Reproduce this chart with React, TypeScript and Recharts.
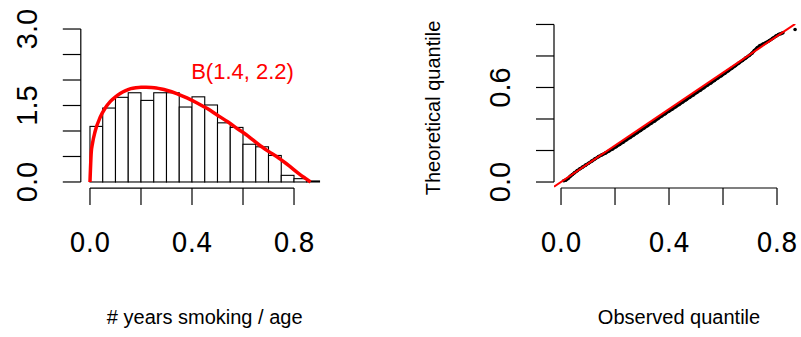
import { ComposedChart, Bar, Line, Scatter, XAxis, YAxis, ReferenceLine } from "recharts"

// histogram of # years smoking / age (density scale, bin width 0.05)
const binMids = [0.025, 0.075, 0.125, 0.175, 0.225, 0.275, 0.325, 0.375, 0.425, 0.475, 0.525, 0.575, 0.625, 0.675, 0.725, 0.775, 0.825, 0.875]
const binDensity = [1.09, 1.45, 1.66, 1.75, 1.6, 1.75, 1.75, 1.47, 1.67, 1.51, 1.16, 1.07, 0.74, 0.69, 0.52, 0.13, 0.065, 0.02]
const binWidth = 0.05

// fitted B(1.4, 2.2) density
const curveX = [0, 0.005, 0.01, 0.02, 0.04, 0.06, 0.08, 0.1, 0.12, 0.14, 0.16, 0.18, 0.2, 0.22, 0.24, 0.26, 0.28, 0.3, 0.34, 0.38, 0.42, 0.46, 0.5, 0.54, 0.58, 0.62, 0.66, 0.7, 0.74, 0.78, 0.82, 0.845, 0.865]
const curveY = [0, 0.58, 0.76, 0.99, 1.27, 1.45, 1.58, 1.67, 1.74, 1.79, 1.83, 1.85, 1.86, 1.86, 1.855, 1.845, 1.825, 1.8, 1.735, 1.65, 1.55, 1.44, 1.31, 1.18, 1.04, 0.9, 0.74, 0.6, 0.47, 0.32, 0.16, 0.07, 0]

const histXTicks = [0, 0.2, 0.4, 0.6, 0.8]
const histXLabels = ["0.0", "", "0.4", "", "0.8"]
const histYTicks = [0, 0.5, 1, 1.5, 2, 2.5, 3]
const histYLabels = ["0.0", "", "", "1.5", "", "", "3.0"]

// QQ plot: observed vs theoretical quantiles
const observedQ = [0.01, 0.018, 0.026, 0.034, 0.042, 0.05, 0.06, 0.07, 0.08, 0.091, 0.102, 0.114, 0.126, 0.139, 0.152, 0.165, 0.178, 0.191, 0.204, 0.217, 0.23, 0.243, 0.256, 0.269, 0.282, 0.295, 0.308, 0.321, 0.334, 0.347, 0.36, 0.373, 0.386, 0.399, 0.412, 0.425, 0.438, 0.451, 0.464, 0.477, 0.49, 0.503, 0.516, 0.529, 0.542, 0.555, 0.568, 0.581, 0.594, 0.607, 0.62, 0.633, 0.646, 0.659, 0.672, 0.685, 0.698, 0.708, 0.716, 0.727, 0.737, 0.748, 0.76, 0.772, 0.784, 0.796, 0.806, 0.815, 0.822, 0.867]
const theoreticalQ = [0.008, 0.012, 0.022, 0.036, 0.047, 0.059, 0.072, 0.084, 0.095, 0.107, 0.119, 0.133, 0.147, 0.161, 0.173, 0.184, 0.197, 0.21, 0.224, 0.238, 0.253, 0.268, 0.283, 0.298, 0.313, 0.328, 0.343, 0.358, 0.373, 0.388, 0.404, 0.419, 0.434, 0.449, 0.463, 0.478, 0.493, 0.508, 0.523, 0.538, 0.553, 0.568, 0.583, 0.598, 0.614, 0.629, 0.644, 0.66, 0.675, 0.691, 0.707, 0.723, 0.739, 0.755, 0.771, 0.788, 0.804, 0.819, 0.834, 0.852, 0.866, 0.875, 0.886, 0.898, 0.912, 0.926, 0.936, 0.942, 0.947, 0.968]
const qqLineSlope = 1.157
const qqLineIntercept = 0

const qqXTicks = [0, 0.2, 0.4, 0.6, 0.8]
const qqXLabels = ["0.0", "", "0.4", "", "0.8"]
const qqYTicks = [0, 0.2, 0.4, 0.6, 0.8, 1]
const qqYLabels = ["0.0", "", "", "0.6", "", ""]

const histXDomain = [-0.036, 0.936]
const histYDomain = [-0.12, 3.12]
const qqXDomain = [-0.026, 0.9]
const qqYDomain = [-0.038, 1.0036]

const SANS = "'Liberation Sans', Arial, sans-serif"

const HIST_W = 400
const HIST_LEFT = 80.8
const HIST_RIGHT = 71.3
const binPx = (binWidth * (HIST_W - HIST_LEFT - HIST_RIGHT)) / (histXDomain[1] - histXDomain[0])

const bins = binMids.map((x, i) => ({ x, density: binDensity[i] }))
const curve = curveX.map((x, i) => ({ x, y: curveY[i] }))
const qqPoints = observedQ.map((x, i) => ({ x, y: theoreticalQ[i] }))
const qqMain = qqPoints.slice(0, -1)
const qqTail = qqPoints.slice(-1)

// abline, clipped to the plot region
const qqLineEnd = (qqYDomain[1] - qqLineIntercept) / qqLineSlope
const qqLine = [
  { x: qqXDomain[0], y: qqLineIntercept + qqLineSlope * qqXDomain[0] },
  { x: qqLineEnd, y: qqYDomain[1] },
]

function makeXTick(ticks: number[], labels: string[]) {
  return (p: any) => {
    const label = labels[ticks.indexOf(p.payload.value)] ?? ""
    return (
      <g>
        <line x1={p.x} y1={p.y} x2={p.x} y2={p.y + 17} stroke="#000" strokeWidth={1.2} />
        {label && (
          <text x={p.x} y={p.y + 64} textAnchor="middle" fontFamily="'DejaVu Sans', sans-serif" fontSize={26} fill="#000">
            {label}
          </text>
        )}
      </g>
    )
  }
}

function makeYTick(ticks: number[], labels: string[]) {
  return (p: any) => {
    const label = labels[ticks.indexOf(p.payload.value)] ?? ""
    const tx = p.x - 54
    return (
      <g>
        <line x1={p.x - 18} y1={p.y} x2={p.x} y2={p.y} stroke="#000" strokeWidth={1.2} />
        {label && (
          <text
            x={tx}
            y={p.y}
            transform={`rotate(-90, ${tx}, ${p.y})`}
            textAnchor="middle"
            dominantBaseline="central"
            fontFamily={SANS}
            fontSize={29}
            fill="#000"
          >
            {label}
          </text>
        )}
      </g>
    )
  }
}

// bar outline spanning the whole bin, centred on the bar recharts placed
function BinRect(p: any) {
  const cx = p.x + p.width / 2
  return <rect x={cx - binPx / 2} y={p.y} width={binPx} height={p.height} fill="#fff" stroke="#000" strokeWidth={1.1} />
}

function HistPanel() {
  return (
    <ComposedChart width={HIST_W} height={337} data={bins} margin={{ top: 22.9, right: HIST_RIGHT, bottom: 0, left: 0 }}>
      <XAxis
        type="number"
        dataKey="x"
        domain={histXDomain}
        allowDataOverflow
        ticks={histXTicks}
        interval={0}
        height={148.9}
        axisLine={false}
        tickLine={false}
        tickSize={0}
        tickMargin={0}
        tick={makeXTick(histXTicks, histXLabels)}
      />
      <YAxis
        type="number"
        domain={histYDomain}
        allowDataOverflow
        ticks={histYTicks}
        interval={0}
        width={HIST_LEFT}
        axisLine={false}
        tickLine={false}
        tickSize={0}
        tickMargin={0}
        tick={makeYTick(histYTicks, histYLabels)}
      />
      <ReferenceLine segment={[{ x: 0, y: histYDomain[0] }, { x: 0.8, y: histYDomain[0] }]} stroke="#000" strokeWidth={1.2} ifOverflow="visible" />
      <ReferenceLine segment={[{ x: histXDomain[0], y: 0 }, { x: histXDomain[0], y: 3 }]} stroke="#000" strokeWidth={1.2} ifOverflow="visible" />
      <Bar dataKey="density" shape={BinRect} isAnimationActive={false} />
      <Line data={curve} dataKey="y" type="monotone" stroke="#ff0000" strokeWidth={3.5} dot={false} isAnimationActive={false} />
    </ComposedChart>
  )
}

const dot = (p: any) => <circle cx={p.cx} cy={p.cy} r={1.8} fill="#000" />
const noDot = () => <g />

function QQPanel() {
  return (
    <ComposedChart width={404} height={337} margin={{ top: 23.9, right: 0, bottom: 0, left: 0 }}>
      <XAxis
        type="number"
        dataKey="x"
        domain={qqXDomain}
        allowDataOverflow
        ticks={qqXTicks}
        interval={0}
        height={149}
        axisLine={false}
        tickLine={false}
        tickSize={0}
        tickMargin={0}
        tick={makeXTick(qqXTicks, qqXLabels)}
      />
      <YAxis
        type="number"
        dataKey="y"
        domain={qqYDomain}
        allowDataOverflow
        ticks={qqYTicks}
        interval={0}
        width={154}
        axisLine={false}
        tickLine={false}
        tickSize={0}
        tickMargin={0}
        tick={makeYTick(qqYTicks, qqYLabels)}
      />
      <ReferenceLine segment={[{ x: 0, y: qqYDomain[0] }, { x: 0.8, y: qqYDomain[0] }]} stroke="#000" strokeWidth={1.2} ifOverflow="visible" />
      <ReferenceLine segment={[{ x: qqXDomain[0], y: 0 }, { x: qqXDomain[0], y: 1 }]} stroke="#000" strokeWidth={1.2} ifOverflow="visible" />
      <Scatter data={qqMain} fill="#000" line={{ stroke: "#000", strokeWidth: 3.2 }} shape={dot} isAnimationActive={false} />
      <Scatter data={qqTail} fill="#000" shape={dot} isAnimationActive={false} />
      <Scatter data={qqLine} fill="#ff0000" line={{ stroke: "#ff0000", strokeWidth: 2 }} shape={noDot} isAnimationActive={false} />
    </ComposedChart>
  )
}

export default function App() {
  return (
    <div style={{ position: "absolute", left: 0, top: 0, width: 801, height: 337, overflow: "hidden", background: "#fff" }}>
      <div style={{ position: "absolute", left: 0, top: 0 }}>
        <HistPanel />
      </div>
      <div style={{ position: "absolute", left: 400, top: 0 }}>
        <QQPanel />
      </div>
      <svg width={801} height={337} style={{ position: "absolute", left: 0, top: 0, pointerEvents: "none" }}>
        <text x={242.5} y={79} textAnchor="middle" fontFamily={SANS} fontSize={22} fill="#ff0000">B(1.4, 2.2)</text>
        <text x={204.7} y={324} textAnchor="middle" fontFamily={SANS} fontSize={20} fill="#000"># years smoking / age</text>
        <text x={679} y={324} textAnchor="middle" fontFamily={SANS} fontSize={20} fill="#000">Observed quantile</text>
        <text x={439.5} y={108} transform="rotate(-90, 439.5, 108)" textAnchor="middle" fontFamily={SANS} fontSize={20} fill="#000">Theoretical quantile</text>
      </svg>
    </div>
  )
}
